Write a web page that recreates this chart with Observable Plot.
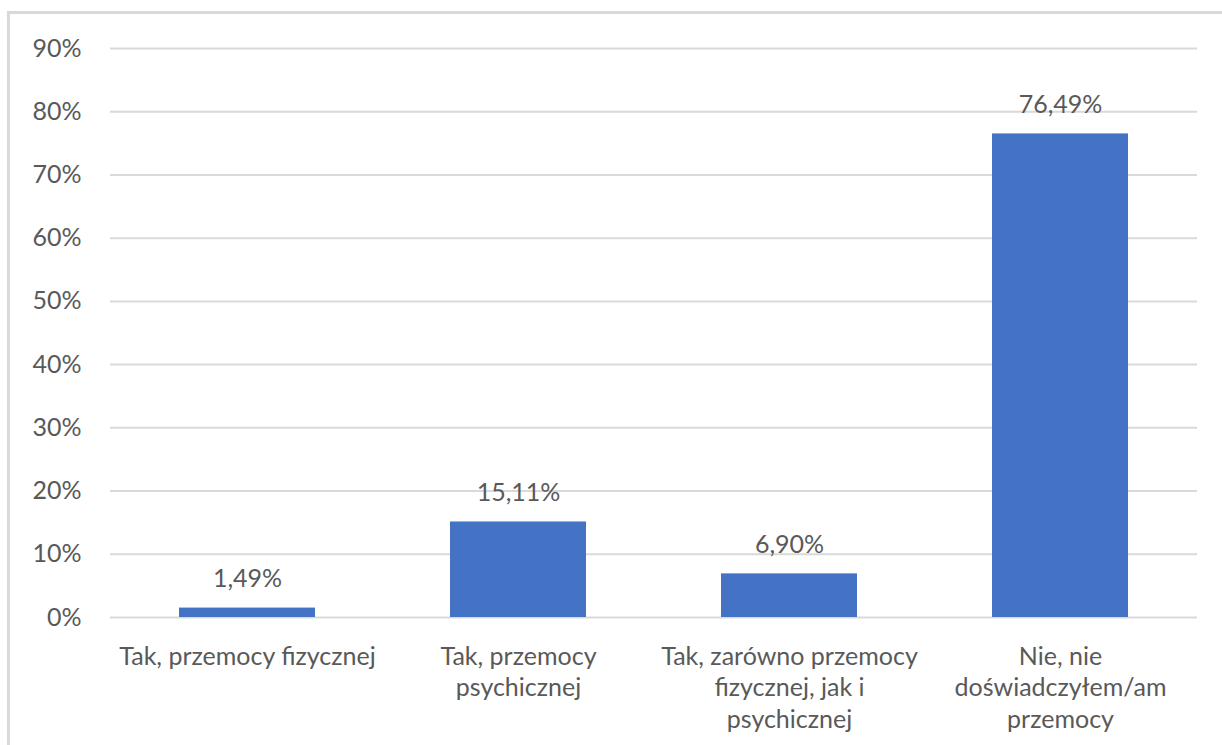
<!DOCTYPE html>
<html>
<head>
<meta charset="utf-8">
<script src="https://cdn.jsdelivr.net/npm/d3@7"></script>
<script src="https://cdn.jsdelivr.net/npm/@observablehq/plot@0.6"></script>
<style>
  html, body { margin: 0; padding: 0; background: #ffffff; }
  #wrap { position: relative; width: 1222px; height: 745px; overflow: hidden; }
  #frame { position: absolute; left: 7px; top: 11px; right: -10px; bottom: -10px;
           border-left: 3px solid #d9d9d9; border-top: 3px solid #d9d9d9; }
  #chart { position: absolute; left: 0; top: 0; }
</style>
</head>
<body>
<div id="wrap"><div id="frame"></div><div id="chart"></div></div>
<script>
const categories = [
  "Tak, przemocy fizycznej",
  "Tak, przemocy\npsychicznej",
  "Tak, zarówno przemocy\nfizycznej, jak i\npsychicznej",
  "Nie, nie\ndoświadczyłem/am\nprzemocy"
];
const values = [1.49, 15.11, 6.90, 76.49];
const yTicks = [0, 10, 20, 30, 40, 50, 60, 70, 80, 90];

const data = categories.map((c, i) => ({category: c, value: values[i]}));
const fmt = v => v.toFixed(2).replace(".", ",") + "%";

const chart = Plot.plot({
  width: 1222,
  height: 745,
  marginLeft: 110,
  marginRight: 25,
  marginTop: 48,
  marginBottom: 128,
  style: {fontFamily: "Lato, 'Open Sans', sans-serif", fontSize: "25px", color: "#595959", background: "transparent"},
  x: {domain: categories, paddingInner: 0.5, paddingOuter: 0.25, label: null},
  y: {domain: [0, 90], label: null},
  marks: [
    Plot.gridY(yTicks, {stroke: "#d9d9d9", strokeOpacity: 1, strokeWidth: 2}),
    Plot.axisY(yTicks, {tickSize: 0, tickPadding: 29, tickFormat: d => d + "%", fontSize: 25, fill: "#595959", label: null}),
    Plot.barY(data, {x: "category", y: "value", fill: "#4472C4"}),
    Plot.text(data, {x: "category", y: "value", text: d => fmt(d.value), dy: -21, lineAnchor: "bottom", fontSize: 25, fill: "#595959"}),
    Plot.axisX({tickSize: 0, tickPadding: 25, lineHeight: 1.26, fontSize: 25, fill: "#595959", label: null})
  ]
});
document.getElementById("chart").appendChild(chart);
</script>
</body>
</html>
